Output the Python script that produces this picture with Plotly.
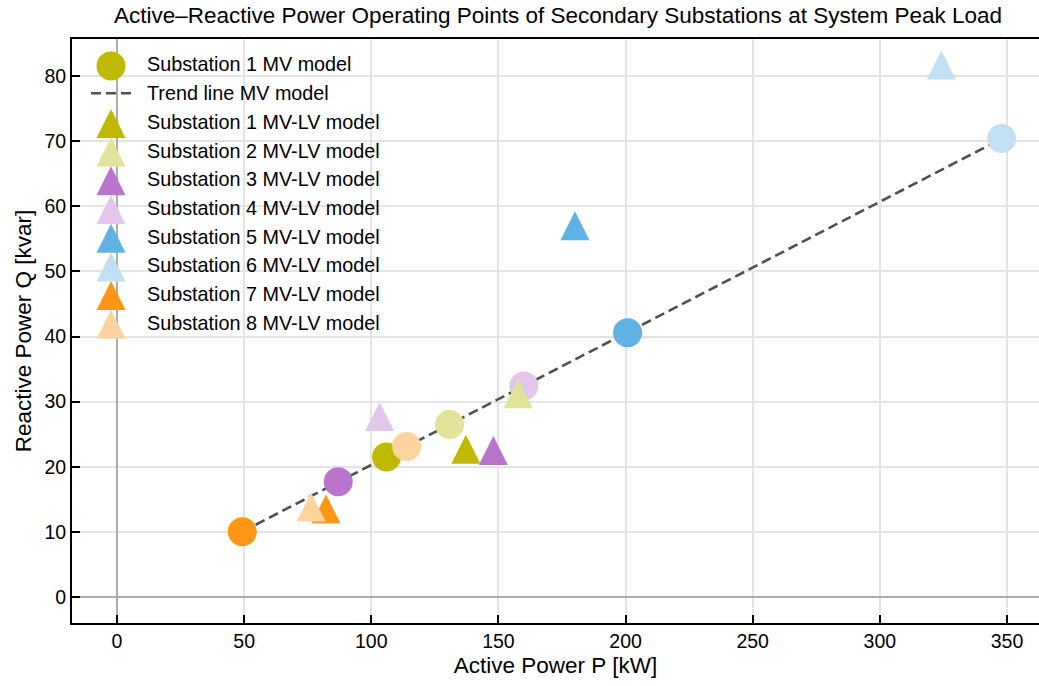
import numpy as np
import plotly.graph_objects as go

# Operating points at system peak load
substations = [f"Substation {i}" for i in range(1, 9)]
colors = ["#bfba00", "#e2e29a", "#ba74cc", "#e3c6eb",
          "#5fb3e4", "#c2e0f4", "#ff9616", "#ffd3a0"]

# MV model (circles)
mv_p = [106.0, 130.8, 87.0, 160.0, 200.8, 347.9, 49.3, 113.9]
mv_q = [21.5, 26.5, 17.7, 32.4, 40.6, 70.4, 10.0, 23.1]

# MV-LV model (triangles)
mvlv_p = [137.2, 157.8, 148.0, 103.3, 180.1, 324.2, 82.2, 76.3]
mvlv_q = [22.7, 31.2, 22.5, 27.7, 57.0, 81.7, 13.5, 13.8]

x_ticks = [0, 50, 100, 150, 200, 250, 300, 350]
y_ticks = [0, 10, 20, 30, 40, 50, 60, 70, 80]

W, H = 1039, 686
ML, MR, MT, MB = 72, 0, 39, 63
PW, PH = W - ML - MR, H - MT - MB

FONT = "Liberation Sans, Arial, Helvetica, sans-serif"
TREND_COLOR = "#505050"
MARKER = 29          # marker extent in px
HALF = MARKER / 2

fig = go.Figure()

# Linear trend through the MV-model points
slope, icpt = np.polyfit(mv_p, mv_q, 1)
trend_x = np.array([min(mv_p), max(mv_p)])
trend_y = slope * trend_x + icpt
fig.add_trace(go.Scatter(
    x=trend_x, y=trend_y, mode="lines",
    line=dict(color=TREND_COLOR, width=2.6, dash="10px,5px"),
    showlegend=False, hoverinfo="skip"))

for name, c, p, q in zip(substations, colors, mv_p, mv_q):
    fig.add_trace(go.Scatter(
        x=[p], y=[q], mode="markers", name=f"{name} MV model",
        marker=dict(size=MARKER, color=c, line=dict(width=0)),
        showlegend=False))

# Triangles (equal width and height) anchored at the data values
tri_path = f"M{-HALF},{-HALF} L{HALF},{-HALF} L0,{HALF} Z"
for c, p, q in zip(colors, mvlv_p, mvlv_q):
    fig.add_shape(type="path", xref="x", yref="y",
                  xsizemode="pixel", ysizemode="pixel",
                  xanchor=p, yanchor=q, path=tri_path,
                  fillcolor=c, line=dict(width=0), layer="above")


# Legend drawn in pixel positions inside the axes
def paper_x(px):
    return (px - ML) / PW


def paper_y(py):
    return (H - MB - py) / PH


legend_items = [("circle", colors[0], "Substation 1 MV model"),
                ("dash", TREND_COLOR, "Trend line MV model")]
legend_items += [("triangle", c, f"{s} MV-LV model")
                 for s, c in zip(substations, colors)]

row0, step = 64.5, 28.7
mark_x, text_x = 111, 144.5
for i, (kind, c, label) in enumerate(legend_items):
    ty = row0 + step * i
    my = ty + 1.5
    if kind == "circle":
        fig.add_shape(type="circle", xref="paper", yref="paper",
                      xsizemode="pixel", ysizemode="pixel",
                      xanchor=paper_x(mark_x), yanchor=paper_y(my),
                      x0=-HALF, x1=HALF, y0=-HALF, y1=HALF,
                      fillcolor=c, line=dict(width=0), layer="above")
    elif kind == "triangle":
        fig.add_shape(type="path", xref="paper", yref="paper",
                      xsizemode="pixel", ysizemode="pixel",
                      xanchor=paper_x(mark_x), yanchor=paper_y(my),
                      path=tri_path, fillcolor=c, line=dict(width=0),
                      layer="above")
    else:
        fig.add_shape(type="line", xref="paper", yref="paper",
                      x0=paper_x(91), x1=paper_x(131),
                      y0=paper_y(ty), y1=paper_y(ty),
                      line=dict(color=c, width=2.6, dash="10px,5px"),
                      layer="above")
    fig.add_annotation(text=label, xref="paper", yref="paper",
                       x=paper_x(text_x), y=paper_y(ty),
                       xanchor="left", yanchor="middle", showarrow=False,
                       font=dict(family=FONT, size=19.8, color="black"))

axis_common = dict(
    ticks="inside", ticklen=8, tickwidth=2, tickcolor="black",
    showline=True, linecolor="black", linewidth=2,
    showgrid=True, gridcolor="#e4e4e4", gridwidth=2,
    zeroline=True, zerolinecolor="#adadad", zerolinewidth=2,
    tickfont=dict(family=FONT, size=19.5, color="black"),
)

fig.update_layout(
    width=W, height=H,
    margin=dict(l=ML, r=MR, t=MT, b=MB, pad=0),
    paper_bgcolor="white", plot_bgcolor="white",
    font=dict(family=FONT, color="black"),
    showlegend=False,
    title=dict(
        text="Active–Reactive Power Operating Points of Secondary Substations at System Peak Load",
        font=dict(family=FONT, size=22.5, color="black"),
        xref="paper", x=0.5026, xanchor="center",
        yref="container", y=1 - 15 / H, yanchor="middle"),
    xaxis=dict(range=[-17.7, 362.6], tickvals=x_ticks, mirror=True,
               title=dict(text="Active Power P [kW]", standoff=6,
                          font=dict(family=FONT, size=22.5, color="black")),
               **axis_common),
    yaxis=dict(range=[-4.0, 85.7], tickvals=y_ticks, mirror=False,
               title=dict(text="Reactive Power Q [kvar]", standoff=7,
                          font=dict(family=FONT, size=22.5, color="black")),
               **axis_common),
)

fig.write_html("out.html")
